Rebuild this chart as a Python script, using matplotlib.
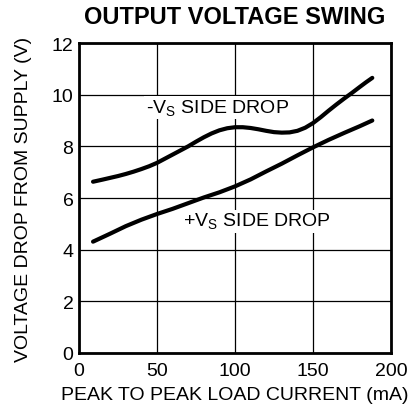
import matplotlib
matplotlib.use("Agg")
import matplotlib.pyplot as plt

plt.rcParams['font.family'] = ['Liberation Sans', 'DejaVu Sans']

current_neg = [9, 15, 20, 25, 30, 35, 40, 45, 50, 55, 60, 65, 70, 75, 80, 85, 90, 95, 100, 105, 110, 115, 120, 125, 130, 135, 140, 145, 150, 155, 160, 165, 170, 175, 180, 184, 188]
drop_neg = [6.63, 6.71, 6.78, 6.85, 6.93, 7.02, 7.12, 7.23, 7.36, 7.52, 7.68, 7.84, 8.0, 8.18, 8.35, 8.50, 8.62, 8.70, 8.74, 8.74, 8.71, 8.66, 8.60, 8.55, 8.53, 8.54, 8.60, 8.72, 8.90, 9.13, 9.38, 9.62, 9.85, 10.07, 10.30, 10.48, 10.65]
current_pos = [9, 20, 30, 40, 50, 60, 70, 80, 90, 100, 110, 120, 130, 140, 150, 160, 170, 180, 188]
drop_pos = [4.31, 4.62, 4.91, 5.16, 5.38, 5.58, 5.80, 6.02, 6.22, 6.45, 6.72, 7.03, 7.33, 7.65, 7.96, 8.25, 8.52, 8.78, 9.0]
x_ticks = [0, 50, 100, 150, 200]
y_ticks = [0, 2, 4, 6, 8, 10, 12]

fig = plt.figure(figsize=(4.14, 4.06), dpi=100)
ax = fig.add_axes([79/414, 1-354/406, (391-79)/414, (354-44)/406])
ax.set_xlim(0, 200)
ax.set_ylim(0, 12)
ax.set_xticks(x_ticks)
ax.set_yticks(y_ticks)
ax.grid(True, color='black', linewidth=0.9)
ax.set_axisbelow(True)
ax.tick_params(length=0, labelsize=14, pad=4)
ax.tick_params(axis='x', pad=6.5)
for s in ax.spines.values():
    s.set_linewidth(2)
    s.set_color('black')

ax.plot(current_neg, drop_neg, color='black', linewidth=3, solid_capstyle='round', solid_joinstyle='round', zorder=3)
ax.plot(current_pos, drop_pos, color='black', linewidth=3, solid_capstyle='round', solid_joinstyle='round', zorder=3)

ax.text(88.5, 9.5, r'-V$_\mathregular{S}$ SIDE DROP', ha='center', va='center', fontsize=14,
        bbox=dict(facecolor='white', edgecolor='none', pad=1), zorder=4)
ax.text(114, 5.1, r'+V$_\mathregular{S}$ SIDE DROP', ha='center', va='center', fontsize=14,
        bbox=dict(facecolor='white', edgecolor='none', pad=1), zorder=4)

ax.set_xlabel('PEAK TO PEAK LOAD CURRENT (mA)', fontsize=14, labelpad=5)
ax.set_ylabel('VOLTAGE DROP FROM SUPPLY (V)', fontsize=14, labelpad=14.5)
fig.text(235/414, 1-17/406, 'OUTPUT VOLTAGE SWING', ha='center', va='center', fontsize=17, fontweight='bold')

fig.savefig('out.png', dpi=100)
